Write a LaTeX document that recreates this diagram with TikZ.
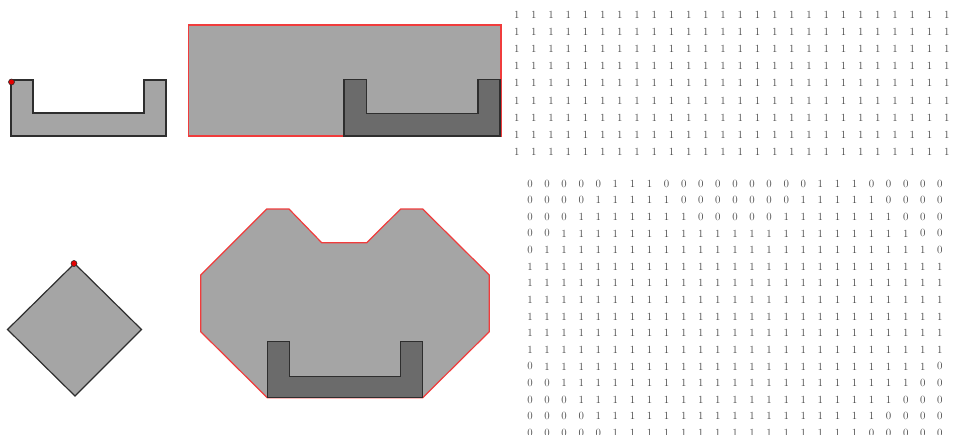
\documentclass[tikz,border=0pt]{standalone}
\definecolor{lightg}{HTML}{A5A5A5}
\definecolor{darkg}{HTML}{6B6B6B}
\definecolor{edgec}{HTML}{2E2E2E}
\definecolor{redc}{HTML}{F03C3C}
\definecolor{digitc}{HTML}{444444}
\tikzset{
  lightshape/.style={fill=lightg, draw=edgec, line width=1.2pt, line join=miter},
  redshape/.style={fill=lightg, draw=redc, line width=1.2pt, line join=miter},
  darkshape/.style={fill=darkg, draw=edgec, line width=1.2pt, line join=miter},
  origindot/.style={fill=red!90!black, draw=edgec, line width=0.6pt},
  digit/.style={inner sep=0pt, text=digitc, font=\fontsize{11}{13}\selectfont}
}
\begin{document}
\begin{tikzpicture}[x=1pt,y=-1pt]
\useasboundingbox (0,0) rectangle (961,434);

% top-left: U structuring element
\draw[lightshape] (11,80) -- (33,80) -- (33,113) -- (144,113) -- (144,80) -- (166,80) -- (166,136) -- (11,136) -- cycle;
\draw[origindot] (11.5,82) circle (3pt);

% top-middle: rectangle with dark U
\draw[redshape] (188.5,25) rectangle (501,136);
\draw[darkshape] (344,79.5) -- (366.5,79.5) -- (366.5,113.5) -- (478,113.5) -- (478,79.5) -- (500,79.5) -- (500,136) -- (344,136) -- cycle;

% bottom-left: diamond
\draw[lightshape] (74.5,263.5) -- (141.5,329.5) -- (75,396) -- (7.5,329.5) -- cycle;
\draw[origindot] (74,263.5) circle (3pt);

% bottom-middle: octagon-like region with dark U
\draw[redshape] (266.7,209) -- (289,209) -- (321.7,242.7) -- (366.7,242.7) -- (400.7,209) -- (422.7,209)
  -- (489.3,275) -- (489.3,331.7) -- (422.7,397.7) -- (267.3,397.7) -- (200.7,331.7) -- (200.7,275) -- cycle;
\draw[darkshape] (267.3,341.7) -- (289.3,341.7) -- (289.3,376.7) -- (400.7,376.7) -- (400.7,341.7) -- (422.7,341.7) -- (422.7,397.7) -- (267.3,397.7) -- cycle;

% top-right matrix: all ones (last column cut by the edge)
\foreach \i in {0,...,8} {
  \foreach \j in {0,...,26} {
    \node[digit] (t-\i-\j) at ({516.7+17.2*\j},{15+17.08*\i}) {1};
  }
}

% bottom-right matrix
\foreach \z/\g [count=\i from 0] in {5/4,4/3,3/2,2/-1,1/-1,0/-1,0/-1,0/-1,0/-1,0/-1,0/-1,1/-1,2/-1,3/-1,4/-1,5/-1} {
  \foreach \j in {0,...,24} {
    \pgfmathtruncatemacro\v{and(and(\j>=\z, \j<=24-\z), abs(\j-12)>\g)}
    \node[digit] (b-\i-\j) at ({530+17.08*\j},{183.5+16.63*\i}) {\v};
  }
}
\end{tikzpicture}
\end{document}
